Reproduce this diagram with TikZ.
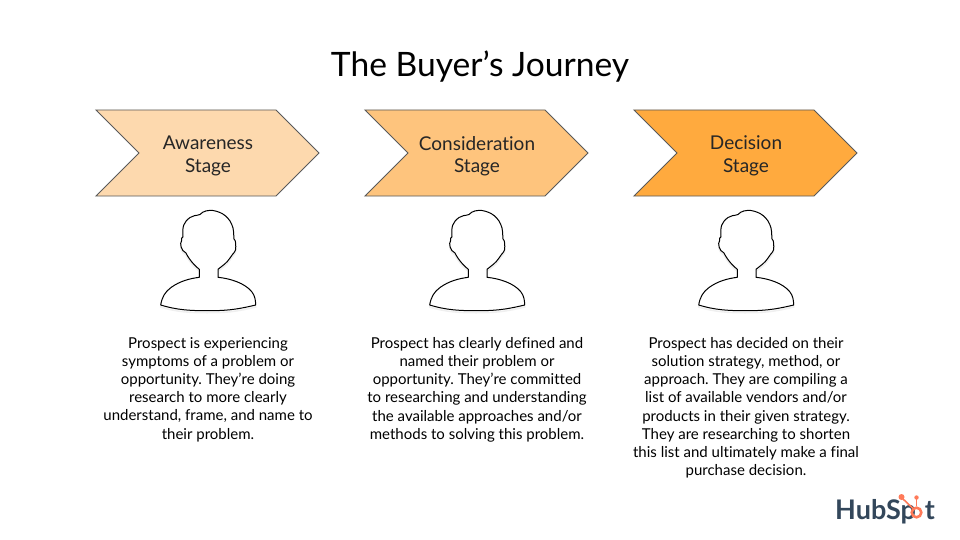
\documentclass[tikz,border=0pt]{standalone}
\usepackage{fontspec}
\setmainfont[Ligatures=NoCommon]{Lato}
\usetikzlibrary{calc}
\definecolor{stageA}{HTML}{FDD9AE}
\definecolor{stageB}{HTML}{FEC47D}
\definecolor{stageC}{HTML}{FFAA3E}
\definecolor{edgegray}{HTML}{595959}
\definecolor{hsnavy}{HTML}{33475B}
\definecolor{hsorange}{HTML}{FF7A59}
\tikzset{
 x=1pt,y=-1pt,
 chev/.style={draw=edgegray,line width=0.9pt,line join=miter},
 stagelabel/.style={font=\fontsize{19}{22.5}\selectfont,align=center,text=black!85,inner sep=0pt},
 bodytext/.style={font=\fontsize{15}{18.2}\selectfont,align=center,text=black,inner sep=0pt,anchor=north},
 persona/.style={draw=black,line width=1pt,fill=white,line join=round},
 personashadow/.style={draw=black,line width=1.6pt,opacity=0.06,fill=none},
 logotext/.style={font=\fontsize{27}{27}\selectfont\bfseries,text=hsnavy,inner sep=0pt},
}
\newcommand{\chevshape}[2]{%
 \draw[chev,fill=#2] (#1,110) -- ++(180,0) -- ++(43,43) -- ++(-43,43) -- ++(-180,0) -- ++(43,-43) -- cycle;}
\newcommand{\personpath}{%
 (69.3,77.3) -- (69.3,69.3) .. controls (60,62) and (56,53) .. (56,53)
 .. controls (51,51) and (49.5,43) .. (51.5,41) .. controls (50.5,38) and (52,38) .. (53,37)
 .. controls (52,26) and (54,22) .. (60,17.5) .. controls (63,15) and (66,16) .. (70,14.5)
 .. controls (73,11) and (78,10) .. (83,10.5) .. controls (92,12) and (100,17) .. (103,28)
 .. controls (104,33) and (103.5,36) .. (104,39) .. controls (106,40) and (106,46) .. (105.5,50)
 .. controls (104,54) and (101,55) .. (100,58) .. controls (97,63) and (92,66) .. (88,69.3)
 -- (88,77.3) .. controls (100,78.5) and (115,83) .. (122,92) .. controls (125,96) and (125.5,100) .. (125.7,105)
 .. controls (105,110) and (95,110.7) .. (77,110.7) .. controls (60,110.7) and (47,110) .. (30.7,105)
 .. controls (32,97) and (35,92) .. (41,87.5) .. controls (50,81) and (60,78.5) .. (69.3,77.3) -- cycle}
\newcommand{\personat}[2]{%
 \begin{scope}[shift={(#1,#2)}]
  \begin{scope}[shift={(0,2)}]\draw[personashadow] \personpath;\end{scope}
  \draw[persona] \personpath;
 \end{scope}}
\begin{document}
\frenchspacing
\begin{tikzpicture}
\useasboundingbox (0,0) rectangle (960,540);
\fill[white] (0,0) rectangle (960,540);
\node[font=\fontsize{33.6}{40}\selectfont,text=black,inner sep=0pt] (title) at (480,67) {The Buyer’s Journey};

\chevshape{96}{stageA}
\chevshape{365}{stageB}
\chevshape{634}{stageC}
\node[stagelabel] (s1) at (208,156) {Awareness\\Stage};
\node[stagelabel] (s2) at (477,156) {Consideration\\Stage};
\node[stagelabel] (s3) at (746,156) {Decision\\Stage};

\personat{130}{200}
\personat{399}{200}
\personat{668}{200}

\node[bodytext] (b1) at (208,337) {Prospect is experiencing\\symptoms of a problem or\\opportunity. They’re doing\\research to more clearly\\understand, frame, and name to\\their problem.};
\node[bodytext] (b2) at (477,337) {Prospect has clearly defined and\\named their problem or\\opportunity. They’re committed\\to researching and understanding\\the available approaches and/or\\methods to solving this problem.};
\node[bodytext] (b3) at (746,337) {Prospect has decided on their\\solution strategy, method, or\\approach. They are compiling a\\list of available vendors and/or\\products in their given strategy.\\They are researching to shorten\\this list and ultimately make a final\\purchase decision.};

% HubSpot logo
\node[logotext,anchor=base west] (logoa) at (835,519.5) {HubSp};
\node[logotext,anchor=base east] (logob) at (935,519.5) {t};
\draw[hsorange,line width=2.6pt] (916.5,512.5) circle (4.8);
\draw[hsorange,line width=1.6pt] (916.5,506) -- (916.5,498);
\draw[hsorange,line width=1.6pt] (912.5,508) -- (902,498);
\fill[hsorange] (901.5,497) circle (3);
\fill[hsorange] (916.5,497.5) circle (2.2);
\end{tikzpicture}
\end{document}
